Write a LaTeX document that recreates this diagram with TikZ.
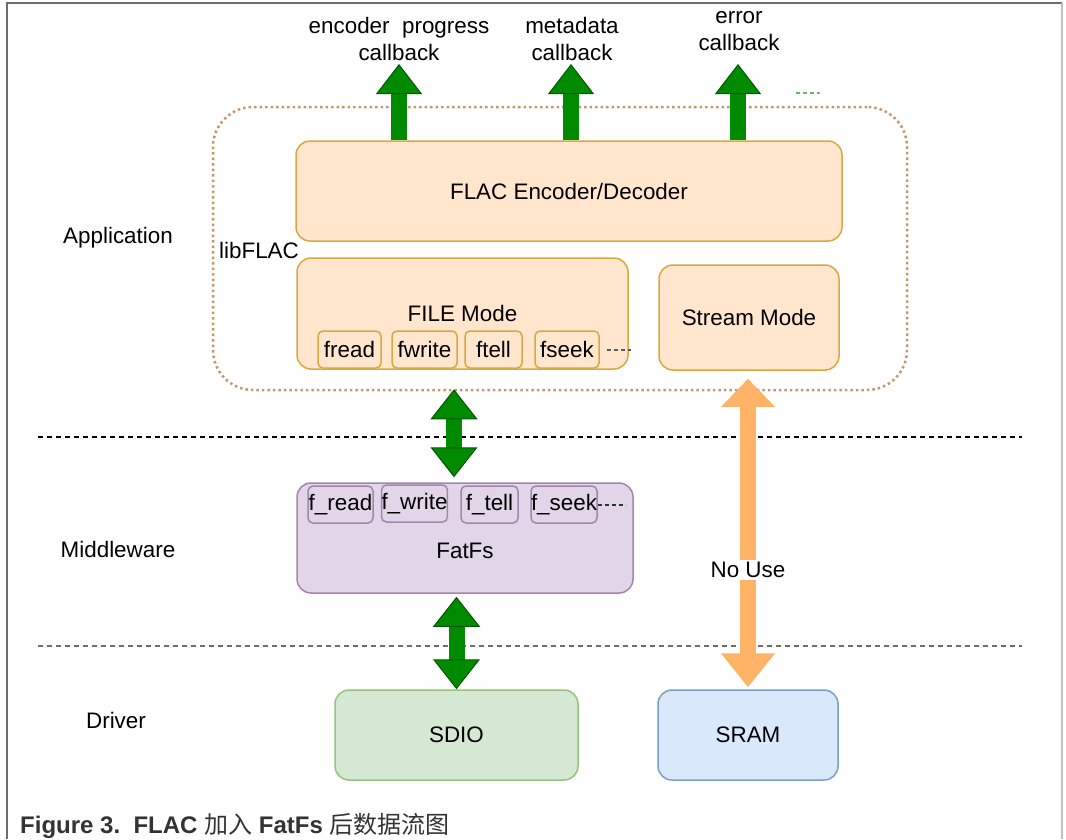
\documentclass[tikz,border=0pt]{standalone}
\usepackage{fontspec}
\setmainfont{Liberation Sans}
\newfontfamily\cjkfont{Noto Sans CJK SC}
\usetikzlibrary{arrows.meta,positioning,calc}
\definecolor{mPeach}{HTML}{FFE6CC}
\definecolor{mGold}{HTML}{D9A93F}
\definecolor{mLilac}{HTML}{E1D5E7}
\definecolor{mPurple}{HTML}{A386B0}
\definecolor{mMint}{HTML}{D5E8D4}
\definecolor{mLeaf}{HTML}{97C27F}
\definecolor{mSky}{HTML}{DAE8FC}
\definecolor{mSteel}{HTML}{7C9CCB}
\definecolor{mGreen}{HTML}{008A00}
\definecolor{mDkGreen}{HTML}{005700}
\definecolor{mApricot}{HTML}{FFB366}
\definecolor{mBrown}{HTML}{C4976E}
\definecolor{mInk}{HTML}{333333}
\definecolor{mGrey}{HTML}{6E6E6E}
\newcommand{\lblfont}{\fontsize{22.4}{27}\selectfont}
\tikzset{
  nd/.style   = {rounded corners=14pt, line width=1.5pt, align=center,
                 font=\lblfont, inner sep=0pt},
  ndo/.style  = {nd, draw=mGold, fill=mPeach},
  ndp/.style  = {nd, draw=mPurple, fill=mLilac},
  ndg/.style  = {nd, draw=mLeaf, fill=mMint},
  ndb/.style  = {nd, draw=mSteel, fill=mSky},
  fn/.style   = {rounded corners=5pt, line width=1.5pt, font=\lblfont,
                 inner sep=0pt, minimum height=37pt},
  fno/.style  = {fn, draw=mGold, fill=mPeach},
  fnp/.style  = {fn, draw=mPurple, fill=mLilac},
  lbl/.style  = {font=\lblfont, align=center, inner sep=0pt},
  up/.style   = {line width=16pt, draw=mGreen, -{Triangle[length=30pt, width=46pt,
                 line width=1pt, color=mDkGreen, fill=mGreen]}},
  both/.style = {line width=16pt, draw=mGreen,
                 {Triangle[length=30pt, width=47pt, line width=1pt, color=mDkGreen, fill=mGreen]}-{Triangle[length=30pt, width=47pt, line width=1pt, color=mDkGreen, fill=mGreen]}},
  bothh/.style = {line width=16pt, draw=mApricot,
                 {Triangle[length=28pt, width=52pt]}-{Triangle[length=34pt, width=52pt]}},
  sep/.style  = {dash pattern=on 5pt off 4pt, line width=1.5pt},
  more/.style = {dash pattern=on 4pt off 3pt, line width=2pt},
}

\begin{document}
\begin{tikzpicture}[x=1pt, y=-1pt]
  \useasboundingbox (0,0) rectangle (1066,839);
  % page frame
  \draw[line width=1.5pt, mGrey] (7,839) -- (7,3) -- (1062,3);
  \draw[line width=2pt, black!25] (1062,3) -- (1062,839);

  % layer separators
  \draw[sep, black] (38,437) -- (1022,437);
  \draw[sep, mGrey] (38,646) -- (1022,646);

  % layer names
  \node[lbl] (app) at (118,238) {Application};
  \node[lbl] (mid) at (118,549) {Middleware};
  \node[lbl] (drv) at (116,720) {Driver};

  % libFLAC
  \node[draw=mBrown, line width=2.5pt, dash pattern=on 2.5pt off 3pt,
        rounded corners=40pt, minimum width=694pt, minimum height=283pt]
        (lib) at (560,248.5) {};
  \node[lbl, anchor=west] (libname) at (219,250) {libFLAC};
  \node[ndo, minimum width=546pt, minimum height=100pt] (enc) at (569,191)
        {FLAC Encoder/Decoder};
  \node[ndo, minimum width=331pt, minimum height=111pt] (file) at (462.5,313.5)
        {FILE Mode};
  \node[ndo, minimum width=180pt, minimum height=105pt] (stream) at (749,317.5)
        {Stream Mode};
  \node[fno, minimum width=63pt] (fread)  at (349.5,349.5) {fread};
  \node[fno, minimum width=65pt] (fwrite) at (424.5,349.5) {fwrite};
  \node[fno, minimum width=57pt] (ftell)  at (493.5,349.5) {ftell};
  \node[fno, minimum width=64pt] (fseek)  at (567,349.5)   {fseek};
  \draw[more, black!65] ([xshift=7pt]fseek.east) -- ++(24,0);

  % callbacks
  \node[lbl] (cbenc)  at (399,39) {encoder\ \ progress\\callback};
  \node[lbl] (cbmeta) at (572,39) {metadata\\callback};
  \node[lbl] (cberr)  at (739,31) {error\\callback};
  \coordinate (tenc)  at (399,64);
  \coordinate (tmeta) at (571,64);
  \coordinate (terr)  at (738,64);
  \draw[up] (enc.north -| tenc)  -- (tenc);
  \draw[up] (enc.north -| tmeta) -- (tmeta);
  \draw[up] (enc.north -| terr)  -- (terr);
  \draw[more, mGreen!60] (796,93) -- (820,93);

  % FatFs
  \node[ndp, minimum width=336pt, minimum height=110pt] (fatfs) at (465,538) {};
  \node[lbl] (fatfsname) at (465,551) {FatFs};
  \node[fnp, minimum width=65pt] (fread2)  at (340.5,504.5) {f\_read};
  \node[fnp, minimum width=65pt] (fwrite2) at (414.5,503.5) {f\_write};
  \node[fnp, minimum width=57pt] (ftell2)  at (489.5,504.5) {f\_tell};
  \node[fnp, minimum width=66pt] (fseek2)  at (564,504.5)   {f\_seek};
  \draw[more, black!80] (fseek2.east) -- ++(28,0);

  % drivers
  \node[ndg, minimum width=243pt, minimum height=90pt] (sdio) at (456.5,735) {SDIO};
  \node[ndb, minimum width=180pt, minimum height=90pt] (sram) at (748,735) {SRAM};

  % data paths
  \coordinate (dn) at (454,0);
  \draw[both] ([yshift=2pt]lib.south -| dn) -- ([yshift=5pt]fatfs.north -| dn);
  \draw[both] ([yshift=-3pt]fatfs.south -| sdio.north) -- (sdio.north);
  \draw[bothh] ([yshift=-8pt]stream.south -| sram.north) -- ([yshift=2pt]sram.north);
  \node[lbl, fill=white, inner sep=2pt] (nouse) at (748,570) {No Use};

  % caption
  \node[anchor=base west, inner sep=0pt, text=mInk] (cap) at (20,833)
        {\fontsize{24}{28}\selectfont\textbf{Figure 3.\ \ FLAC} {\cjkfont 加入}
         \textbf{FatFs} {\cjkfont 后数据流图}};
\end{tikzpicture}
\end{document}
